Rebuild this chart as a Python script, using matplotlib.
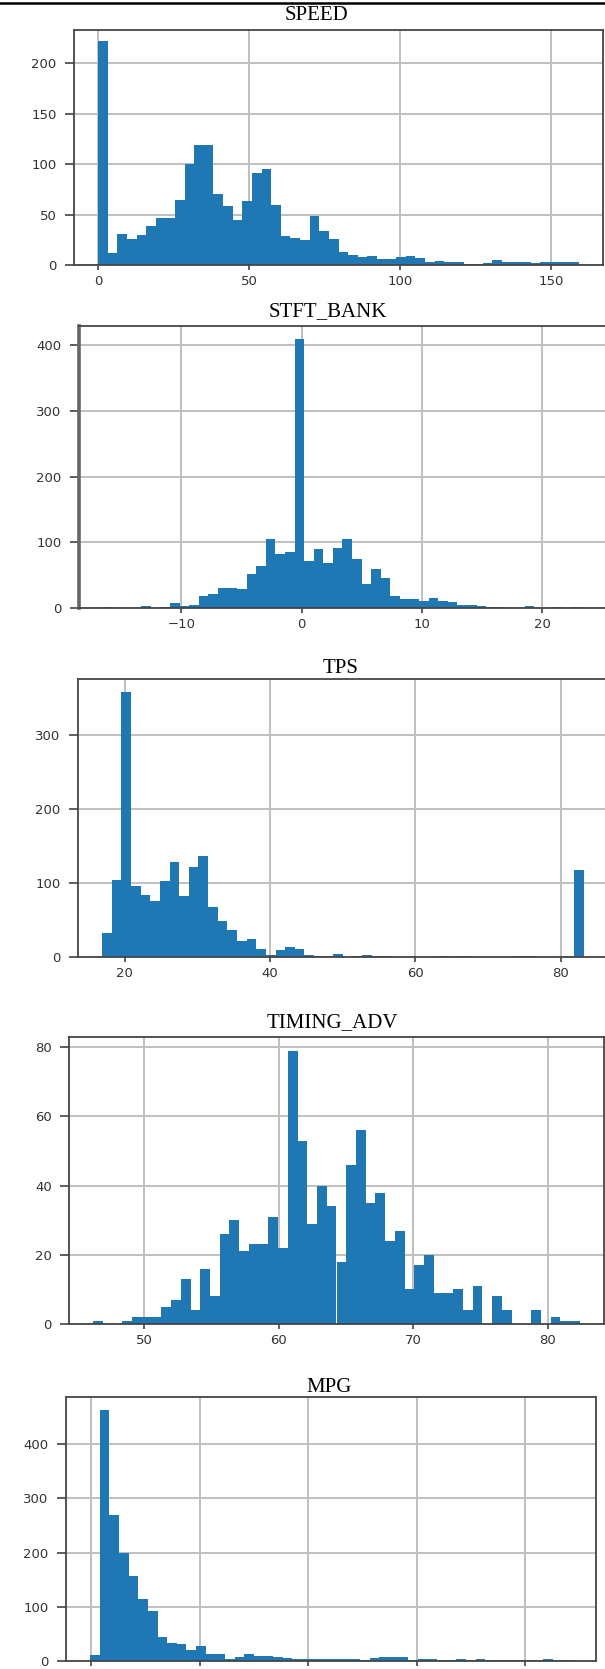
import numpy as np
import matplotlib
matplotlib.use('Agg')
import matplotlib.pyplot as plt

# histogram counts (50 bins each)
speed_range = (0.0, 159.3)
speed_counts = [222, 12, 31, 26, 30, 39, 47, 47, 64, 100,
                119, 119, 70, 59, 45, 63, 91, 95, 60, 29,
                27, 25, 49, 34, 26, 13, 10, 8, 9, 6,
                6, 8, 9, 7, 3, 4, 3, 3, 1, 1,
                2, 5, 3, 3, 3, 2, 3, 3, 3, 3]

stft_range = (-16.5, 23.3)
stft_counts = [1, 0, 0, 0, 3, 0, 1, 7, 3, 5,
               19, 21, 31, 31, 29, 52, 64, 105, 82, 86,
               409, 72, 90, 69, 92, 105, 74, 36, 60, 45,
               18, 13, 13, 11, 15, 11, 9, 4, 4, 3,
               2, 1, 0, 0, 3, 0, 0, 1, 0, 1]

tps_range = (16.9, 83.2)
tps_counts = [32, 104, 357, 96, 83, 75, 102, 128, 82, 121,
              136, 67, 48, 36, 22, 24, 11, 3, 9, 13,
              11, 3, 1, 0, 4, 0, 2, 3, 2, 2,
              0, 0, 0, 0, 0, 2, 0, 2, 0, 0,
              0, 0, 0, 2, 2, 0, 0, 0, 1, 117]

timing_range = (46.24, 82.36)
timing_counts = [1, 0, 0, 1, 2, 2, 2, 5, 7, 13,
                 4, 16, 8, 26, 30, 21, 23, 23, 31, 22,
                 79, 53, 29, 40, 34, 18, 46, 56, 35, 38,
                 24, 27, 10, 17, 20, 9, 9, 10, 4, 11,
                 0, 8, 4, 0, 0, 4, 0, 2, 1, 1]

mpg_range = (-0.1, 44.3)
mpg_counts = [11, 464, 269, 200, 156, 115, 92, 45, 34, 31,
              21, 28, 13, 13, 3, 7, 13, 10, 10, 7,
              5, 3, 3, 3, 3, 4, 3, 4, 1, 5,
              7, 7, 7, 2, 4, 3, 1, 1, 3, 2,
              3, 1, 2, 2, 2, 2, 2, 3, 2, 2]

titles = ['SPEED', 'STFT_BANK', 'TPS', 'TIMING_ADV', 'MPG']
ranges = [speed_range, stft_range, tps_range, timing_range, mpg_range]
counts = [speed_counts, stft_counts, tps_counts, timing_counts, mpg_counts]
xticks = [[0, 50, 100, 150], [-10, 0, 10, 20], [20, 40, 60, 80],
          [50, 60, 70, 80], [0, 10, 20, 30, 40]]
yticks = [[0, 50, 100, 150, 200], [0, 100, 200, 300, 400], [0, 100, 200, 300],
          [0, 20, 40, 60, 80], [0, 100, 200, 300, 400]]

# pixel boxes (left, top, right, bottom) and title centres, from the picture
boxes = [(74, 30, 603, 265), (79, 326, 606, 608), (78, 679, 608, 957),
         (69, 1037, 604, 1324), (66, 1397, 596, 1661)]
title_pos = [(316, 16), (328, 312), (341, 668), (332, 1023), (329, 1387)]

W, H = 605, 1669
fig = plt.figure(figsize=(W / 100, H / 100), dpi=100)

# black rule across the top
fig.add_artist(plt.Line2D([0, 1], [1 - 3 / H, 1 - 3 / H], transform=fig.transFigure,
                          color='black', lw=1.8))

for i in range(5):
    l, t, r, b = boxes[i]
    ax = fig.add_axes([l / W, 1 - b / H, (r - l) / W, (b - t) / H])
    lo, hi = ranges[i]
    edges = np.linspace(lo, hi, len(counts[i]) + 1)
    ax.hist(edges[:-1], bins=edges, weights=counts[i], color='#1f77b4')
    ax.set_xticks(xticks[i])
    ax.set_yticks(yticks[i])
    ax.grid(True, color='#c0c0c0', lw=1.4)
    ax.set_axisbelow(True)
    for s in ax.spines.values():
        s.set_color('#454545')
        s.set_linewidth(1.3)
    if i == 1:
        ax.spines['left'].set_linewidth(2.6)
        ax.spines['left'].set_color('#666666')
    ax.tick_params(axis='y', length=6.5, width=1.1, pad=6, labelsize=9.5,
                   colors='#333333')
    ax.tick_params(axis='x', length=3.5, width=1.1, pad=4, labelsize=9.5,
                   colors='#333333')
    if i == 4:
        # the bottom panel is cut off below its ticks
        ax.tick_params(axis='x', labelbottom=False)
    fig.text(title_pos[i][0] / W, 1 - title_pos[i][1] / H, titles[i],
             ha='center', va='center', fontsize=15, family='Liberation Serif',
             color='black')

fig.savefig('out.png', dpi=100)
